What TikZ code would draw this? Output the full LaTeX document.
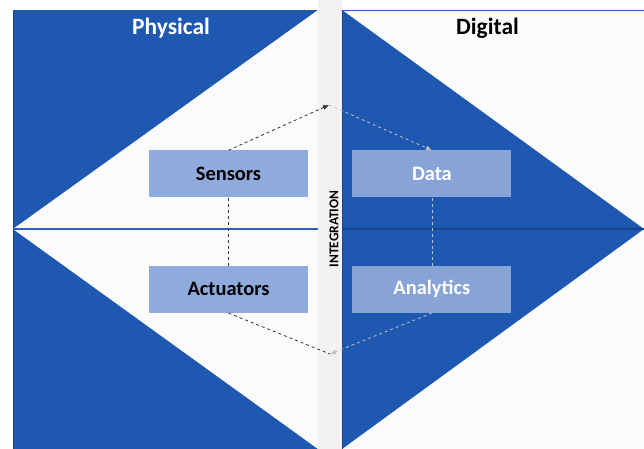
\documentclass[tikz,border=0pt]{standalone}
\usepackage{fontspec}
\setmainfont{Carlito}
\usetikzlibrary{positioning,arrows.meta}
\definecolor{panelblue}{RGB}{31,88,176}
\definecolor{lineblue}{RGB}{46,96,184}
\definecolor{darkline}{RGB}{24,66,142}
\definecolor{paper}{RGB}{251,251,251}
\definecolor{strip}{RGB}{242,242,242}
\definecolor{lightbox}{RGB}{143,170,220}
\definecolor{darkbox}{RGB}{136,164,214}
\tikzset{pbox/.style={fill=lightbox,rectangle,minimum width=159bp,minimum height=47bp,inner sep=0pt,font=\bfseries\fontsize{20.5}{24}\selectfont,text=black},dbox/.style={pbox,fill=darkbox,text=white},head/.style={font=\bfseries\fontsize{23.5}{28}\selectfont,anchor=base},link/.style={dashed,draw=black!80,line width=0.8pt},glink/.style={dashed,draw=black!25,line width=0.8pt}}

\begin{document}
\begin{tikzpicture}[x=1bp,y=-1bp]
\useasboundingbox (0,0) rectangle (644,449);
% physical side
\fill[panelblue] (13,10) rectangle (318,449);
\fill[paper] (13,229) -- (318,10) -- (318,449) -- cycle;
\draw[darkline,line width=0.6pt] (13,10) -- (13,449);
% digital side
\fill[paper] (342,10) rectangle (644,449);
\fill[panelblue] (342,10) -- (644,229) -- (342,449) -- cycle;
\draw[lineblue,line width=0.8pt] (342,10) -- (644,10);
\draw[darkline,line width=0.6pt] (342,10) -- (342,449);
% integration strip and the middle lines
\fill[strip] (318,0) rectangle (342,449);
\draw[lineblue,line width=1.6pt] (13,229) -- (318,229);
\draw[darkline,line width=1.6pt] (342,229) -- (644,229);
\node[head,text=white] (phys) at (171,35) {Physical};
\node[head,text=black] (dig) at (487.5,35) {Digital};
\node[rotate=90,inner sep=0pt,font=\bfseries\fontsize{13.5}{16}\selectfont] (integ) at (334,229) {INTEGRATION};
\node[pbox] (sens) at (228.5,174) {Sensors};
\node[pbox,below=68bp of sens] (act) {Actuators};
\node[dbox,right=44bp of sens] (data) {Data};
\node[dbox,below=68bp of data] (ana) {Analytics};
\coordinate (itop) at (329,105);\coordinate (ibot) at (330,354);
\draw[link,-{Latex[length=6pt,width=5pt]}] (sens.north) -- (itop);
\draw[glink,-{Latex[length=6pt,width=5pt]}] (itop) -- (data.north);
\draw[link] (sens.south) -- (act.north);\draw[glink] (data.south) -- (ana.north);
\draw[glink,-{Latex[length=6pt,width=5pt]}] (ana.south) -- (ibot);
\draw[link] (act.south) -- (ibot);
\end{tikzpicture}
\end{document}
